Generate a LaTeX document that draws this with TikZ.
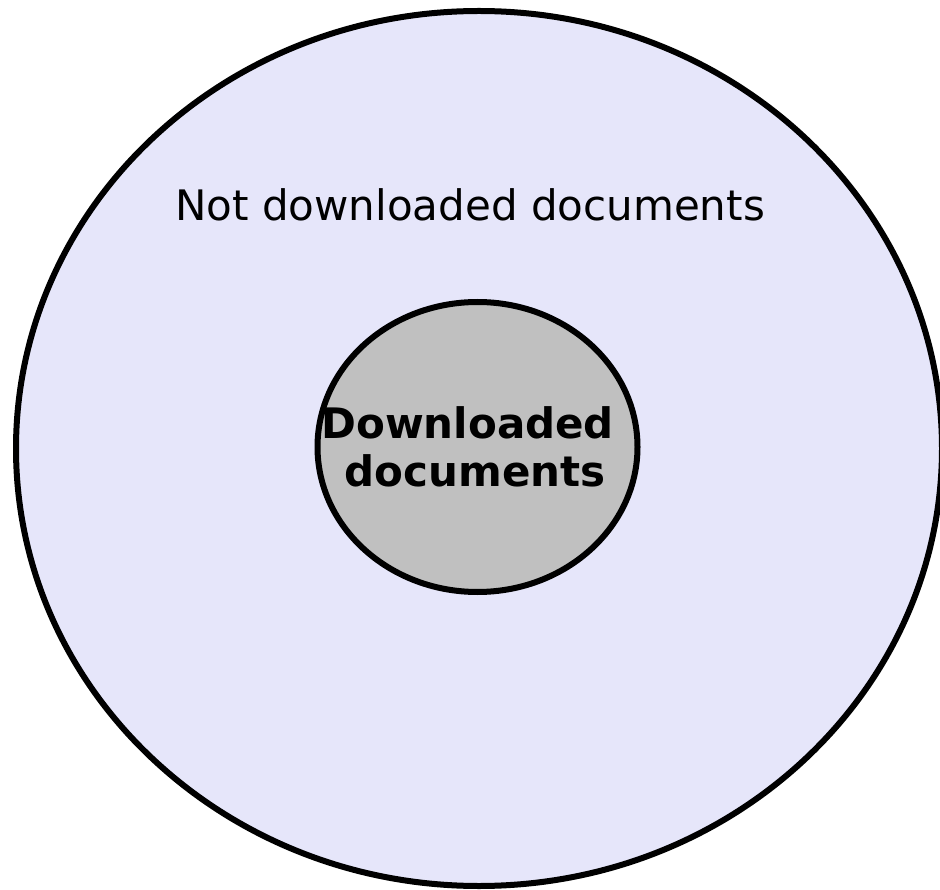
\documentclass[tikz,border=0pt]{standalone}
\usepackage{fontspec}
\setmainfont{DejaVu Sans}
\definecolor{lavenderfill}{RGB}{230,230,250}
\definecolor{silverfill}{RGB}{192,192,192}
\begin{document}
\begin{tikzpicture}[x=1pt,y=-1pt,
  setshape/.style={draw=black,line width=6pt},
  label/.style={inner sep=0pt,font=\fontsize{42}{48}\selectfont}]
\useasboundingbox (0,0) rectangle (940,890);
% outer set: documents not downloaded
\draw[setshape,fill=lavenderfill] (479,448.5) ellipse [x radius=463,y radius=437.5];
% inner set: downloaded documents
\draw[setshape,fill=silverfill] (477.5,447) ellipse [x radius=160,y radius=145];
\node[label] (outer) at (470,205) {Not downloaded documents};
\node[label,align=center,font=\fontsize{42}{48}\selectfont\bfseries] (inner) at (475,447)
  {Downloaded\hspace*{0.35em}\\documents};
\end{tikzpicture}
\end{document}
